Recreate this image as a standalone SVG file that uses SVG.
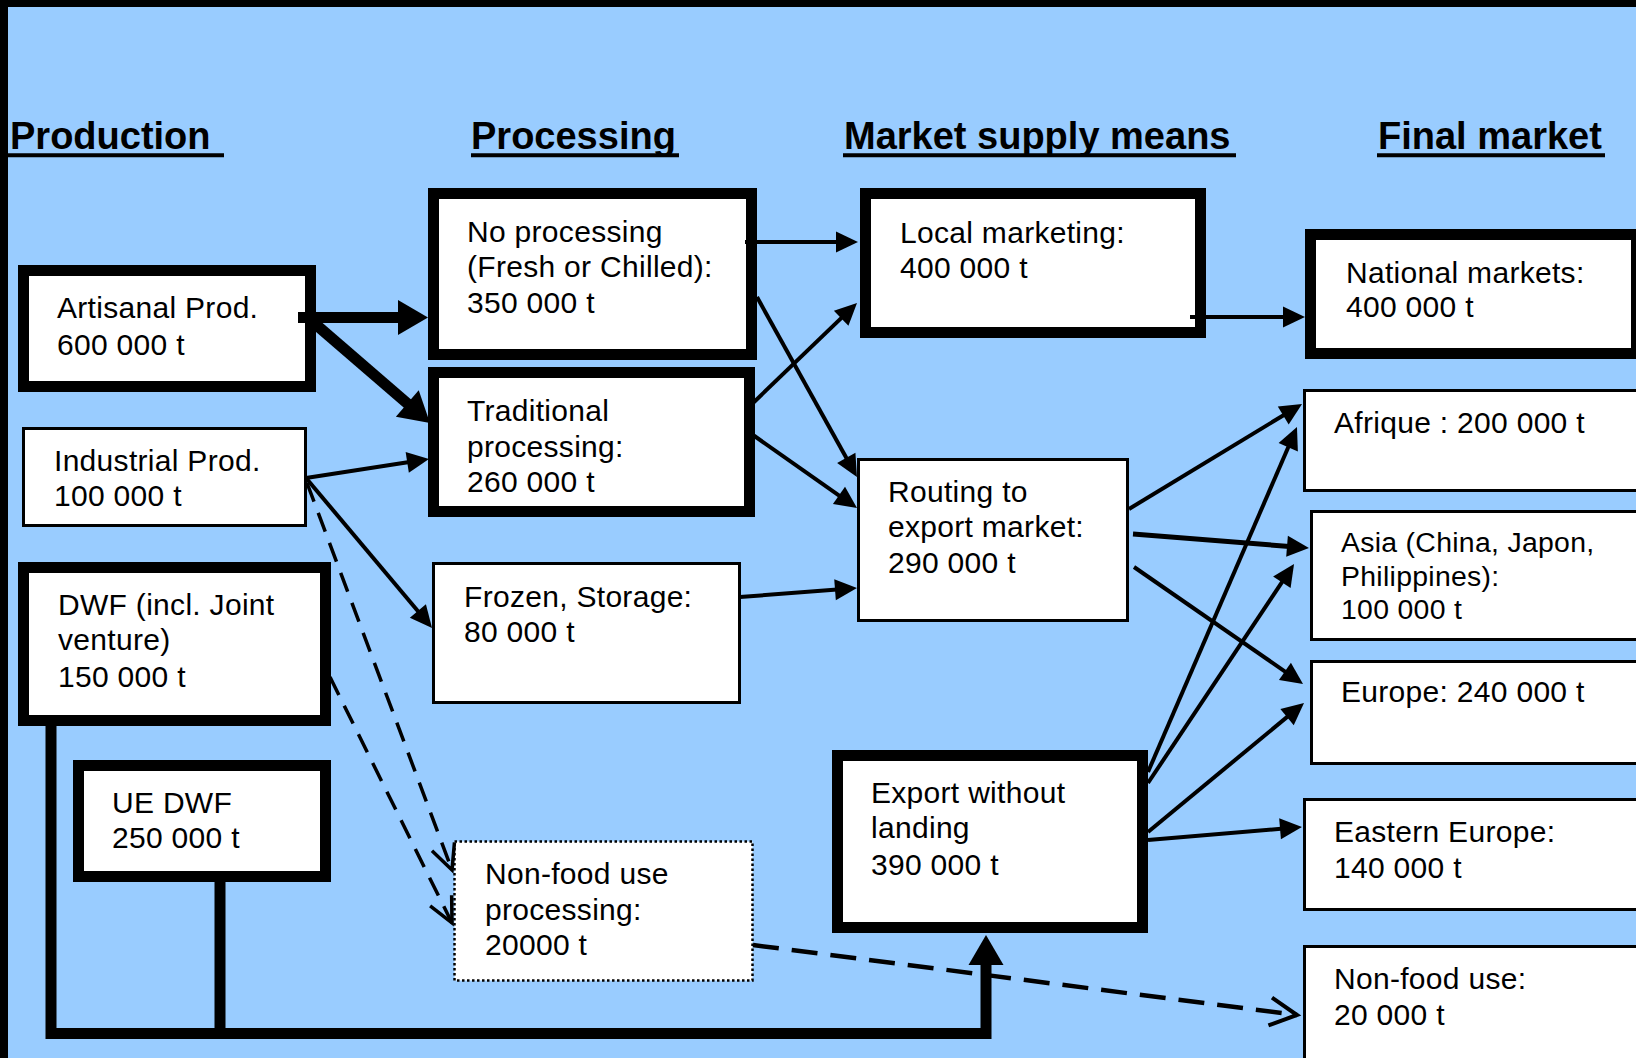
<svg xmlns="http://www.w3.org/2000/svg" width="1636" height="1058" viewBox="0 0 1636 1058">
<defs>
<style>
.bg{fill:#99CCFF}
.thick{fill:#fff;stroke:#000;stroke-width:11}
.thin{fill:#fff;stroke:#000;stroke-width:3}
.dot{fill:#fff;stroke:#000;stroke-width:2.5;stroke-dasharray:2.5 2.5}
.t{font-family:"Liberation Sans",Arial,Helvetica,sans-serif;font-size:30px;letter-spacing:0.3px;fill:#000}
.ts{font-size:28.4px}
.h{font-family:"Liberation Sans",Arial,Helvetica,sans-serif;font-size:38px;font-weight:bold;fill:#000}
.ul{stroke:#000;stroke-width:4}
.c{fill:none;stroke:#000;stroke-width:4;marker-end:url(#a)}
.ck{fill:none;stroke:#000;stroke-width:11;marker-end:url(#ak)}
.cd{fill:none;stroke:#000;stroke-width:3.5;stroke-dasharray:20 12;marker-end:url(#ao)}
.cd2{fill:none;stroke:#000;stroke-width:4.5;stroke-dasharray:26 13;marker-end:url(#ao2)}
</style>
<marker id="a" markerUnits="userSpaceOnUse" markerWidth="22" markerHeight="21" refX="12" refY="10.5" orient="auto" overflow="visible"><path d="M0,0 L22,10.5 L0,21 z" fill="#000"/></marker>
<marker id="ak" markerUnits="userSpaceOnUse" markerWidth="30" markerHeight="35" refX="16" refY="17.5" orient="auto" overflow="visible"><path d="M0,0 L30,17.5 L0,35 z" fill="#000"/></marker>
<marker id="ao" markerUnits="userSpaceOnUse" markerWidth="26" markerHeight="24" refX="25" refY="12" orient="auto" overflow="visible"><path d="M0,0 L25,12 L0,24" fill="none" stroke="#000" stroke-width="3.5"/></marker>
<marker id="ao2" markerUnits="userSpaceOnUse" markerWidth="28" markerHeight="28" refX="27" refY="14" orient="auto" overflow="visible"><path d="M0,0 L27,14 L0,28" fill="none" stroke="#000" stroke-width="4"/></marker>
</defs>
<rect class="bg" x="0" y="0" width="1636" height="1058"/>
<rect x="0" y="0" width="1636" height="7" fill="#000"/>
<rect x="0" y="0" width="8" height="1058" fill="#000"/>

<g id="headers">
<text class="h" x="10" y="149">Production</text>
<line class="ul" x1="8" y1="155.3" x2="224" y2="155.3"/>
<text class="h" x="471" y="149">Processing</text>
<line class="ul" x1="471" y1="155.3" x2="679" y2="155.3"/>
<text class="h" x="844" y="149">Market supply means</text>
<line class="ul" x1="843" y1="155.3" x2="1236" y2="155.3"/>
<text class="h" x="1378" y="149">Final market</text>
<line class="ul" x1="1377" y1="155.3" x2="1605" y2="155.3"/>
</g>

<g id="artisanal">
<rect class="thick" x="23.5" y="270.5" width="287" height="116"/>
<text class="t" x="57" y="318">Artisanal Prod.</text>
<text class="t" x="57" y="355">600 000 t</text>
</g>
<g id="industrial">
<rect class="thin" x="23.5" y="428.5" width="282" height="97"/>
<text class="t" x="54" y="471">Industrial Prod.</text>
<text class="t" x="54" y="506">100 000 t</text>
</g>
<g id="dwf">
<rect class="thick" x="23.5" y="567.5" width="302" height="153"/>
<text class="t" x="58" y="615">DWF (incl. Joint</text>
<text class="t" x="58" y="650">venture)</text>
<text class="t" x="58" y="687">150 000 t</text>
</g>
<g id="uedwf">
<rect class="thick" x="78.5" y="765.5" width="247" height="111"/>
<text class="t" x="112" y="813">UE DWF</text>
<text class="t" x="112" y="848">250 000 t</text>
</g>
<g id="noprocessing">
<rect class="thick" x="433.5" y="193.5" width="318" height="161"/>
<text class="t" x="467" y="242">No processing</text>
<text class="t" x="467" y="277">(Fresh or Chilled):</text>
<text class="t" x="467" y="313">350 000 t</text>
</g>
<g id="traditional">
<rect class="thick" x="433.5" y="372.5" width="316" height="139"/>
<text class="t" x="467" y="421">Traditional</text>
<text class="t" x="467" y="457">processing:</text>
<text class="t" x="467" y="492">260 000 t</text>
</g>
<g id="frozen">
<rect class="thin" x="433.5" y="563.5" width="306" height="139"/>
<text class="t" x="464" y="607">Frozen, Storage:</text>
<text class="t" x="464" y="642">80 000 t</text>
</g>
<g id="nonfoodproc">
<rect class="dot" x="454.5" y="841.5" width="298" height="139"/>
<text class="t" x="485" y="884">Non-food use</text>
<text class="t" x="485" y="920">processing:</text>
<text class="t" x="485" y="955">20000 t</text>
</g>
<g id="local">
<rect class="thick" x="865.5" y="193.5" width="335" height="139"/>
<text class="t" x="900" y="243">Local marketing:</text>
<text class="t" x="900" y="278">400 000 t</text>
</g>
<g id="routing">
<rect class="thin" x="858.5" y="459.5" width="269" height="161"/>
<text class="t" x="888" y="502">Routing to</text>
<text class="t" x="888" y="537">export market:</text>
<text class="t" x="888" y="573">290 000 t</text>
</g>
<g id="export">
<rect class="thick" x="837.5" y="755.5" width="305" height="172"/>
<text class="t" x="871" y="803">Export without</text>
<text class="t" x="871" y="838">landing</text>
<text class="t" x="871" y="875">390 000 t</text>
</g>
<g id="national">
<rect class="thick" x="1310.5" y="234.5" width="326" height="119"/>
<text class="t" x="1346" y="283">National markets:</text>
<text class="t" x="1346" y="317">400 000 t</text>
</g>
<g id="afrique">
<rect class="thin" x="1304.5" y="390.5" width="340" height="100"/>
<text class="t" x="1334" y="433">Afrique : 200 000 t</text>
</g>
<g id="asia">
<rect class="thin" x="1311.5" y="511.5" width="340" height="128"/>
<text class="t ts" x="1341" y="552">Asia (China, Japon,</text>
<text class="t ts" x="1341" y="586">Philippines):</text>
<text class="t ts" x="1341" y="619">100 000 t</text>
</g>
<g id="europe">
<rect class="thin" x="1311.5" y="661.5" width="340" height="102"/>
<text class="t" x="1341" y="702">Europe: 240 000 t</text>
</g>
<g id="easterneurope">
<rect class="thin" x="1304.5" y="799.5" width="340" height="110"/>
<text class="t" x="1334" y="842">Eastern Europe:</text>
<text class="t" x="1334" y="878">140 000 t</text>
</g>
<g id="nonfooduse">
<rect class="thin" x="1304.5" y="946.5" width="340" height="130"/>
<text class="t" x="1334" y="989">Non-food use:</text>
<text class="t" x="1334" y="1025">20 000 t</text>
</g>

<g id="connectors">
<line class="ck" x1="298" y1="317.5" x2="414" y2="317.5"/>
<line class="ck" x1="306" y1="316" x2="419.4" y2="413.9"/>
<line class="c" x1="306" y1="478" x2="419.1" y2="460.5"/>
<line class="c" x1="306" y1="478" x2="425.6" y2="620.3"/>
<line class="cd" x1="307" y1="483" x2="452" y2="870"/>
<line class="cd" x1="330" y1="677" x2="452" y2="923"/>
<line class="c" x1="745" y1="242" x2="848" y2="242"/>
<line class="c" x1="757" y1="297" x2="852.1" y2="468.3"/>
<line class="c" x1="753" y1="403" x2="849.8" y2="309.9"/>
<line class="c" x1="753" y1="435" x2="848.8" y2="502.3"/>
<line class="c" x1="740" y1="597" x2="847" y2="588.8"/>
<line class="cd2" x1="753" y1="945" x2="1297" y2="1015"/>
<line class="c" x1="1190" y1="317" x2="1295" y2="317"/>
<line class="c" x1="1129" y1="509" x2="1293.5" y2="409.2"/>
<line class="c" x1="1133" y1="534" x2="1299" y2="547.2" style="stroke-width:5"/>
<line class="c" x1="1134" y1="567" x2="1294.8" y2="678.3"/>
<line class="c" x1="1148" y1="772" x2="1293" y2="436.2"/>
<line class="c" x1="1148" y1="783" x2="1288.5" y2="572.3"/>
<line class="c" x1="1148" y1="832" x2="1296.3" y2="709.4"/>
<line class="c" x1="1148" y1="840" x2="1292" y2="827.8"/>
<path class="ck" d="M51,726 V1033.5 H986 V949" stroke-linejoin="miter"/>
<line x1="220" y1="882" x2="220" y2="1033.5" stroke="#000" stroke-width="11"/>
</g>
</svg>
